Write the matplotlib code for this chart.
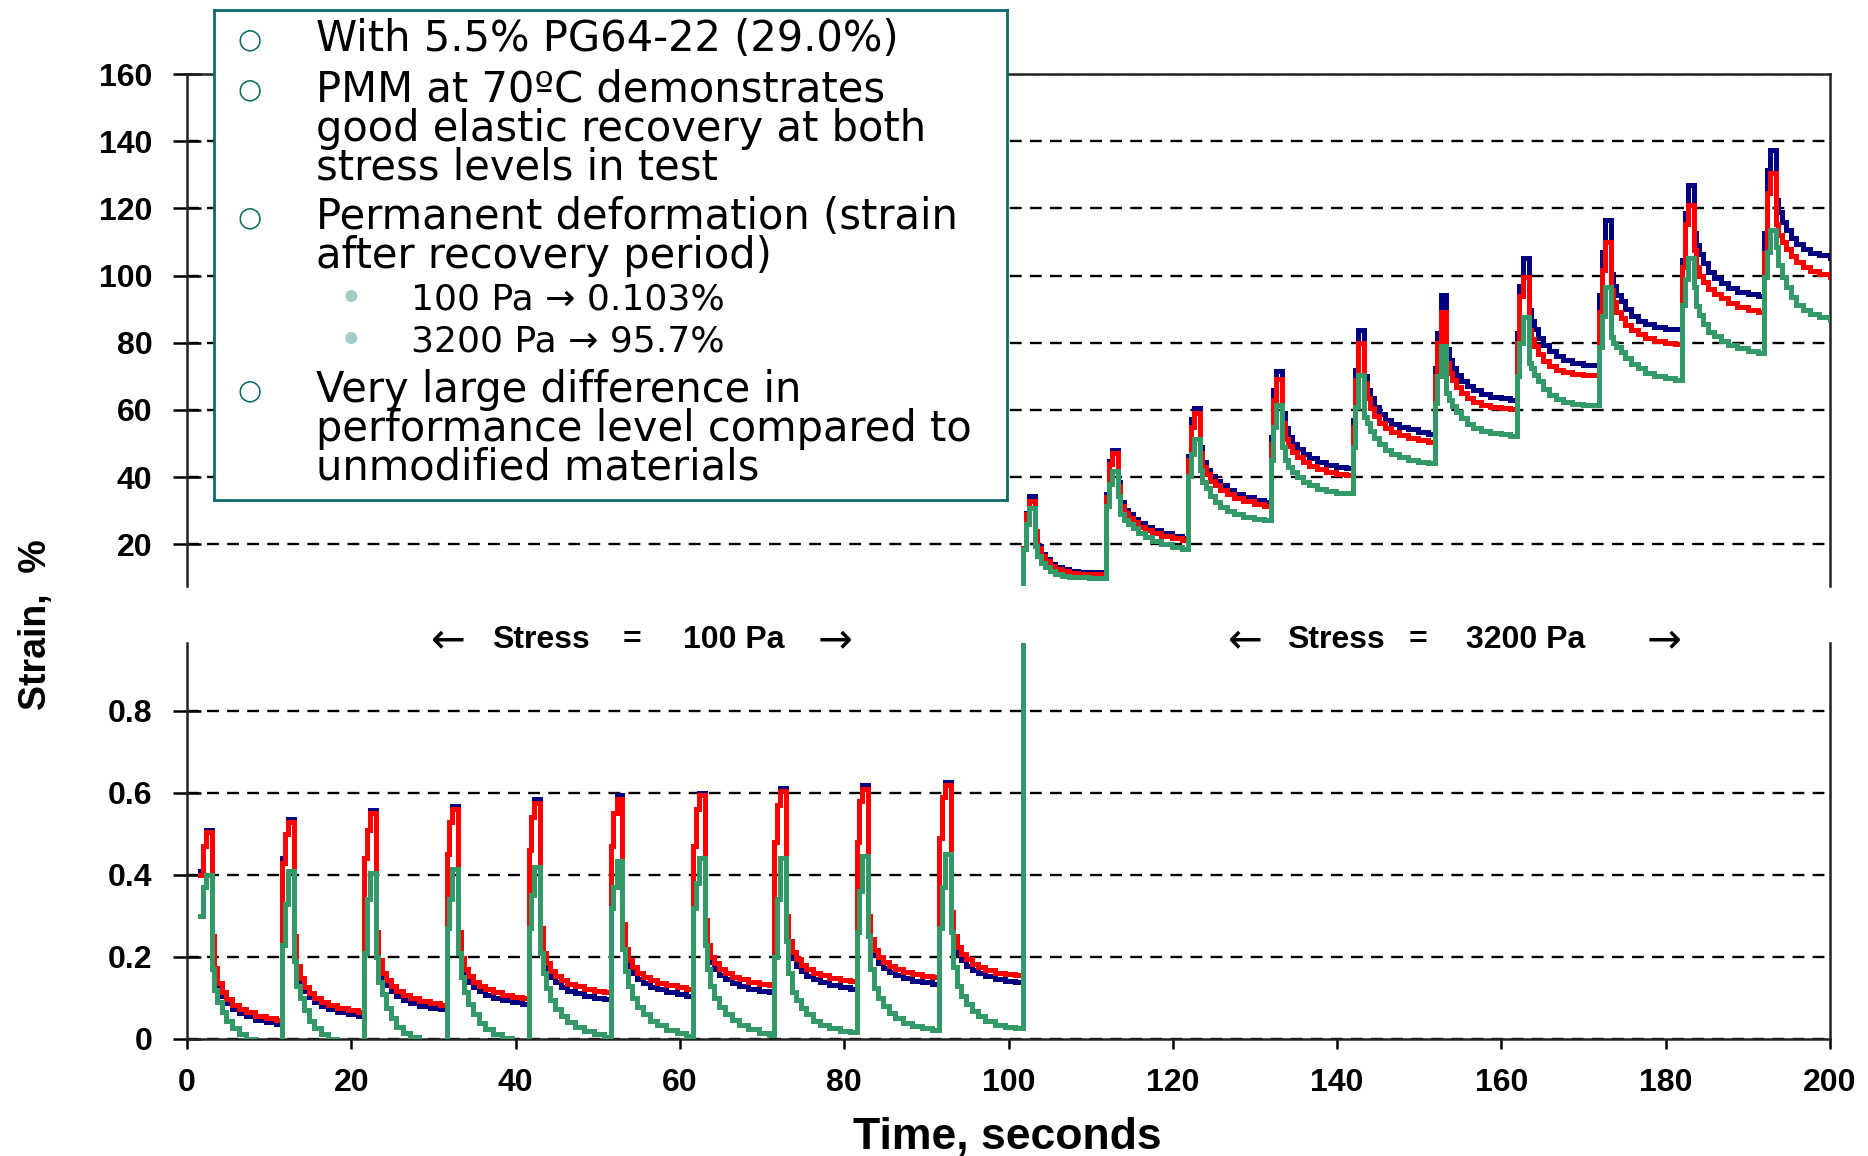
import matplotlib
matplotlib.use("Agg")
import matplotlib.pyplot as plt

# cycle onset times (s) and sample offsets inside each 10 s creep/recovery cycle
cycle_start = [1.6, 11.6, 21.6, 31.6, 41.6, 51.6, 61.6, 71.5, 81.5, 91.6,
               101.8, 111.9, 121.9, 131.9, 141.9, 151.9, 161.9, 171.9, 182.0, 192.0]
step_offsets = [0.0, 0.3, 0.7, 1.4, 1.7, 2.1, 2.6, 3.2, 3.9, 4.7, 5.6, 6.7, 8.0, 9.2]
t_end = 200.0

# strain (%) per cycle: 3 creep samples, then 11 recovery samples
navy_strain = [
    [0.41, 0.47, 0.51, 0.24, 0.162, 0.127, 0.105, 0.088, 0.074, 0.064, 0.056, 0.047, 0.041, 0.037],
    [0.44, 0.50, 0.537, 0.24, 0.170, 0.138, 0.118, 0.103, 0.090, 0.081, 0.074, 0.066, 0.061, 0.057],
    [0.44, 0.51, 0.557, 0.25, 0.182, 0.151, 0.131, 0.117, 0.104, 0.095, 0.088, 0.081, 0.075, 0.072],
    [0.45, 0.53, 0.568, 0.25, 0.187, 0.159, 0.140, 0.127, 0.116, 0.107, 0.101, 0.094, 0.089, 0.086],
    [0.46, 0.54, 0.584, 0.26, 0.197, 0.169, 0.151, 0.138, 0.126, 0.118, 0.112, 0.105, 0.100, 0.097],
    [0.47, 0.55, 0.594, 0.27, 0.207, 0.179, 0.160, 0.147, 0.136, 0.127, 0.121, 0.114, 0.109, 0.106],
    [0.47, 0.56, 0.600, 0.28, 0.217, 0.188, 0.170, 0.156, 0.145, 0.136, 0.130, 0.123, 0.118, 0.115],
    [0.48, 0.57, 0.612, 0.29, 0.226, 0.197, 0.178, 0.165, 0.153, 0.145, 0.138, 0.131, 0.126, 0.123],
    [0.48, 0.58, 0.619, 0.29, 0.230, 0.204, 0.186, 0.174, 0.163, 0.155, 0.149, 0.142, 0.138, 0.135],
    [0.49, 0.59, 0.627, 0.30, 0.238, 0.210, 0.192, 0.179, 0.168, 0.160, 0.153, 0.147, 0.142, 0.139],
    [19.0, 29.4, 34.4, 24.0, 19.5, 17.0, 15.5, 14.2, 13.3, 12.6, 12.2, 11.9, 11.8, 11.8],
    [34.9, 44.8, 48.1, 38.5, 32.5, 30.2, 28.9, 27.6, 26.3, 25.3, 24.3, 23.4, 22.5, 21.8],
    [46.3, 57.2, 60.7, 49.0, 44.5, 42.2, 40.4, 39.0, 37.6, 36.3, 35.1, 34.0, 33.1, 32.6],
    [52.0, 66.0, 71.6, 59.0, 54.5, 52.0, 50.0, 48.5, 47.0, 45.8, 44.6, 43.7, 43.0, 42.6],
    [57.0, 72.0, 83.9, 70.0, 66.0, 63.5, 61.0, 58.8, 57.0, 55.9, 55.0, 54.2, 53.5, 52.9],
    [72.4, 83.0, 94.1, 78.0, 75.0, 72.5, 70.3, 68.5, 67.0, 65.8, 64.8, 64.0, 63.5, 63.0],
    [83.0, 96.8, 105.2, 89.8, 86.5, 84.0, 81.5, 79.2, 77.5, 76.0, 74.8, 74.0, 73.5, 73.3],
    [94.2, 107.1, 116.5, 100.6, 97.0, 94.2, 92.5, 90.0, 88.0, 86.6, 85.5, 84.8, 84.2, 84.0],
    [104.6, 118.5, 127.0, 112.6, 109.0, 106.3, 103.6, 101.0, 99.2, 97.7, 96.3, 95.1, 94.4, 94.0],
    [112.6, 131.4, 137.4, 122.5, 119.0, 116.0, 113.5, 111.2, 109.3, 107.8, 106.8, 106.0, 105.4, 105.1],
]
red_strain = [
    [0.40, 0.47, 0.505, 0.25, 0.172, 0.137, 0.115, 0.098, 0.084, 0.074, 0.066, 0.057, 0.051, 0.047],
    [0.43, 0.50, 0.53, 0.25, 0.179, 0.148, 0.127, 0.112, 0.099, 0.090, 0.083, 0.075, 0.070, 0.066],
    [0.44, 0.51, 0.55, 0.26, 0.192, 0.162, 0.143, 0.128, 0.116, 0.107, 0.100, 0.093, 0.087, 0.084],
    [0.45, 0.53, 0.56, 0.26, 0.198, 0.171, 0.153, 0.140, 0.129, 0.121, 0.114, 0.108, 0.103, 0.100],
    [0.46, 0.54, 0.575, 0.27, 0.210, 0.184, 0.166, 0.154, 0.143, 0.135, 0.129, 0.122, 0.118, 0.115],
    [0.47, 0.55, 0.585, 0.28, 0.220, 0.193, 0.175, 0.162, 0.151, 0.143, 0.137, 0.131, 0.126, 0.123],
    [0.47, 0.56, 0.595, 0.29, 0.229, 0.201, 0.184, 0.171, 0.160, 0.152, 0.145, 0.139, 0.134, 0.131],
    [0.48, 0.57, 0.605, 0.30, 0.239, 0.211, 0.194, 0.181, 0.170, 0.162, 0.155, 0.149, 0.144, 0.141],
    [0.48, 0.58, 0.61, 0.30, 0.243, 0.217, 0.200, 0.188, 0.178, 0.170, 0.164, 0.158, 0.154, 0.151],
    [0.49, 0.59, 0.62, 0.31, 0.250, 0.224, 0.206, 0.194, 0.183, 0.175, 0.169, 0.162, 0.158, 0.155],
    [19.0, 29.0, 33.0, 24.0, 19.0, 16.5, 15.0, 13.5, 12.6, 12.0, 11.6, 11.3, 11.2, 11.1],
    [34.0, 44.0, 47.3, 37.4, 31.5, 29.2, 27.9, 26.6, 25.3, 24.4, 23.4, 22.6, 21.8, 21.2],
    [45.0, 55.0, 59.2, 47.3, 43.0, 40.8, 39.0, 37.6, 36.2, 35.0, 33.8, 32.8, 32.0, 31.4],
    [50.0, 63.0, 69.2, 56.0, 51.5, 49.3, 47.5, 46.0, 44.6, 43.4, 42.4, 41.6, 41.0, 40.7],
    [55.0, 69.0, 79.9, 68.0, 63.5, 60.5, 58.3, 56.2, 54.5, 53.4, 52.5, 51.7, 51.1, 50.6],
    [70.0, 80.0, 89.3, 73.9, 71.0, 68.8, 66.7, 65.0, 63.6, 62.5, 61.6, 61.0, 60.6, 60.2],
    [80.0, 94.0, 99.7, 83.9, 81.0, 79.0, 76.8, 74.7, 73.2, 72.0, 71.2, 70.6, 70.4, 70.3],
    [89.2, 101.6, 110.0, 95.7, 92.0, 89.2, 87.5, 85.3, 83.8, 82.6, 81.5, 80.6, 80.0, 79.5],
    [102.6, 115.5, 121.0, 107.6, 102.5, 100.0, 98.0, 96.0, 94.6, 93.2, 91.8, 90.6, 89.8, 89.2],
    [106.6, 124.5, 130.4, 115.5, 112.0, 110.0, 107.8, 105.8, 104.0, 102.6, 101.5, 100.5, 99.9, 99.6],
]
green_strain = [
    [0.30, 0.37, 0.40, 0.17, 0.12, 0.09, 0.065, 0.045, 0.027, 0.013, 0.0, -0.01, -0.02, -0.03],
    [0.23, 0.33, 0.41, 0.19, 0.13, 0.10, 0.07, 0.045, 0.028, 0.012, 0.0, -0.01, -0.02, -0.03],
    [0.21, 0.34, 0.405, 0.20, 0.14, 0.11, 0.075, 0.05, 0.03, 0.015, 0.004, -0.01, -0.02, -0.03],
    [0.27, 0.34, 0.415, 0.21, 0.15, 0.115, 0.085, 0.06, 0.04, 0.025, 0.012, 0.002, -0.01, -0.02],
    [0.27, 0.35, 0.42, 0.21, 0.16, 0.125, 0.095, 0.072, 0.055, 0.042, 0.03, 0.02, 0.011, 0.004],
    [0.32, 0.37, 0.433, 0.22, 0.165, 0.13, 0.10, 0.077, 0.06, 0.045, 0.033, 0.023, 0.014, 0.008],
    [0.32, 0.38, 0.44, 0.23, 0.17, 0.13, 0.10, 0.078, 0.06, 0.046, 0.034, 0.024, 0.015, 0.009],
    [0.20, 0.34, 0.44, 0.24, 0.16, 0.115, 0.095, 0.075, 0.06, 0.045, 0.035, 0.026, 0.02, 0.016],
    [0.26, 0.36, 0.447, 0.25, 0.17, 0.125, 0.10, 0.08, 0.064, 0.05, 0.04, 0.032, 0.026, 0.022],
    [0.27, 0.37, 0.45, 0.26, 0.175, 0.13, 0.105, 0.085, 0.068, 0.055, 0.044, 0.035, 0.029, 0.026],
    [18.5, 26.0, 30.9, 19.5, 16.5, 14.5, 13.2, 12.0, 11.2, 10.7, 10.4, 10.2, 10.1, 10.1],
    [31.4, 38.0, 41.8, 34.4, 29.0, 27.2, 26.0, 24.8, 23.4, 22.3, 21.0, 20.2, 19.3, 18.7],
    [40.4, 47.0, 51.5, 42.0, 38.5, 36.8, 34.5, 32.7, 31.2, 30.0, 29.0, 28.2, 27.6, 27.2],
    [45.0, 55.0, 61.4, 49.0, 45.0, 43.0, 41.5, 40.0, 38.6, 37.6, 36.6, 35.9, 35.4, 35.2],
    [49.1, 61.0, 70.4, 58.0, 56.0, 53.8, 51.8, 49.8, 48.0, 47.0, 46.0, 45.2, 44.6, 44.1],
    [62.0, 70.0, 78.9, 65.0, 63.0, 61.3, 59.5, 57.5, 55.8, 54.6, 53.7, 53.1, 52.7, 52.3],
    [70.0, 80.0, 87.8, 73.9, 72.5, 70.5, 68.5, 66.3, 64.5, 63.3, 62.5, 61.9, 61.5, 61.4],
    [78.8, 88.0, 96.7, 81.8, 80.0, 78.8, 77.3, 75.5, 73.8, 72.4, 71.0, 70.2, 69.4, 68.9],
    [91.2, 99.0, 105.1, 96.7, 91.0, 88.2, 85.5, 83.3, 82.0, 80.6, 79.4, 78.4, 77.6, 77.1],
    [99.6, 107.0, 113.7, 108.6, 103.0, 99.6, 96.5, 93.5, 91.2, 89.8, 88.6, 87.6, 87.0, 86.7],
]

series_colors = ["#000080", "#ff0000", "#339966"]

upper_ticks = [20, 40, 60, 80, 100, 120, 140, 160]
lower_ticks = [0, 0.2, 0.4, 0.6, 0.8]
lower_tick_labels = ["0", "0.2", "0.4", "0.6", "0.8"]
x_ticks = [0, 20, 40, 60, 80, 100, 120, 140, 160, 180, 200]

# stress-level annotations: (x in seconds, piece)
stress_low = [(31.8, "\u2190"), (43.1, "Stress"), (54.2, "="), (66.6, "100 Pa"), (78.9, "\u2192")]
stress_high = [(128.8, "\u2190"), (139.8, "Stress"), (149.8, "="), (163.0, "3200 Pa"), (179.8, "\u2192")]

notes = [
    ("bullet", "With 5.5% PG64-22 (29.0%)"),
    ("bullet", "PMM at 70ºC demonstrates"),
    ("cont", "good elastic recovery at both"),
    ("cont", "stress levels in test"),
    ("bullet", "Permanent deformation (strain"),
    ("cont", "after recovery period)"),
    ("sub", "100 Pa \u2192 0.103%"),
    ("sub", "3200 Pa \u2192 95.7%"),
    ("bullet", "Very large difference in"),
    ("cont", "performance level compared to"),
    ("cont", "unmodified materials"),
]


def build_series(rows):
    t, y = [], []
    for start, row in zip(cycle_start, rows):
        for off, v in zip(step_offsets, row):
            t.append(start + off)
            y.append(v)
    t.append(t_end)
    y.append(rows[-1][-1])
    return t, y


W, H = 1868, 1156
fig = plt.figure(figsize=(W / 100, H / 100), dpi=100)
fig.patch.set_facecolor("white")

chart_font = ["Liberation Sans", "DejaVu Sans"]


def fx(px):
    return px / W


def fy(py):
    return 1 - py / H


ax_low = fig.add_axes([fx(187), fy(1039), fx(1830) - fx(187), fy(643) - fy(1039)])
ax_up = fig.add_axes([fx(187), fy(586), fx(1830) - fx(187), fy(74) - fy(586)])

all_series = [build_series(navy_strain), build_series(red_strain), build_series(green_strain)]

for ax in (ax_low, ax_up):
    for (t, y), c in zip(all_series, series_colors):
        ax.plot(t, y, drawstyle="steps-post", color=c, lw=3.6,
                solid_joinstyle="miter", zorder=3)
    ax.set_xlim(0, 200)
    ax.set_axisbelow(True)
    ax.yaxis.grid(True, color="black", lw=1.7, linestyle=(0, (5, 3.5)), zorder=1)
    for s in ax.spines.values():
        s.set_linewidth(1.8)
        s.set_color("#222222")
    ax.tick_params(axis="y", direction="inout", length=20, width=1.8, pad=15)

tick_kw = dict(fontsize=23, fontweight="bold", family=chart_font)

ax_low.set_ylim(0, 0.965)
ax_low.set_yticks(lower_ticks)
ax_low.set_yticklabels(lower_tick_labels, **tick_kw)
ax_low.set_xticks(x_ticks)
ax_low.set_xticklabels([str(v) for v in x_ticks], **tick_kw)
ax_low.tick_params(axis="x", direction="out", length=7, width=1.8, pad=14)
ax_low.spines["top"].set_visible(False)

ax_up.set_ylim(7.6, 160)
ax_up.set_yticks(upper_ticks)
ax_up.set_yticklabels([str(v) for v in upper_ticks], **tick_kw)
ax_up.set_xticks([])
ax_up.spines["bottom"].set_visible(False)

for pieces in (stress_low, stress_high):
    for xv, piece in pieces:
        if piece in ("\u2190", "\u2192"):
            ax_low.text(xv, 0.972, piece, ha="center", va="center", fontsize=30,
                        family="DejaVu Sans", clip_on=False)
        else:
            ax_low.text(xv, 0.972, piece, ha="center", va="center", fontsize=23,
                        fontweight="bold", family=chart_font, clip_on=False)

fig.text(fx(36), fy(625), "Strain,  %", rotation=90, ha="center", va="center",
         fontsize=27, fontweight="bold", family=chart_font)
fig.text(fx(1007), fy(1138), "Time, seconds", ha="center", va="center",
         fontsize=32, fontweight="bold", family=chart_font)

# note box laid over the upper panel
box = fig.add_axes([fx(214), fy(500), fx(1007) - fx(214), fy(10) - fy(500)])
box.set_facecolor("white")
box.set_xticks([])
box.set_yticks([])
for s in box.spines.values():
    s.set_color("#0b6b66")
    s.set_linewidth(2.0)

line_y = [39, 89, 129, 167, 217, 256, 300, 342, 390, 429, 468]
for (kind, txt), py in zip(notes, line_y):
    if kind == "sub":
        fig.text(fx(351), fy(py), "\u2022", color="#9fcfcb", fontsize=30,
                 ha="center", va="center", zorder=10)
        fig.text(fx(411), fy(py), txt, fontsize=26, family="DejaVu Sans",
                 ha="left", va="center", zorder=10)
    else:
        if kind == "bullet":
            fig.text(fx(250), fy(py), "\u25cb", color="#0b6b66", fontsize=20,
                     ha="center", va="center", zorder=10)
        fig.text(fx(316), fy(py), txt, fontsize=30, family="DejaVu Sans",
                 ha="left", va="center", zorder=10)

fig.savefig("out.png", dpi=100, facecolor="white")
